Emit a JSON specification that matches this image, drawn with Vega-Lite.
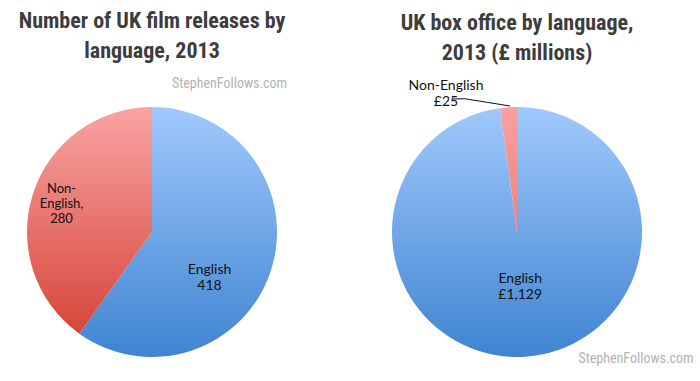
{
  "$schema": "https://vega.github.io/schema/vega-lite/v6.json",
  "background": "white",
  "padding": {"left": 2, "top": 9, "right": 0, "bottom": 0},
  "bounds": "flush",
  "spacing": 65,
  "config": {
    "view": {"stroke": null},
    "title": {"font": "Roboto Condensed", "fontSize": 22, "fontWeight": "bold", "color": "#3d3d3d", "lineHeight": 30, "anchor": "middle", "offset": 14}
  },
  "datasets": {
    "releases": [
      {"language": "English", "value": 418, "label": "English\n418"},
      {"language": "Non-English", "value": 280, "label": "Non-\nEnglish,\n280"}
    ],
    "boxoffice": [
      {"language": "English", "value": 1129, "label": "English\n£1,129"},
      {"language": "Non-English", "value": 25, "label": "Non-English\n£25"}
    ]
  },
  "hconcat": [
    {
      "width": 300,
      "height": 250,
      "title": {"text": ["Number of UK film releases by", "language, 2013"]},
      "layer": [
        {
          "data": {"name": "releases"},
          "mark": {"type": "arc"},
          "encoding": {
            "theta": {"field": "value", "type": "quantitative", "stack": true},
            "detail": {"field": "language", "type": "nominal"},
            "order": {"field": "value", "type": "quantitative", "sort": "descending"},
            "color": {
              "condition": {"test": "datum.language === 'English'", "value": {"gradient": "linear", "x1": 0, "y1": 0, "x2": 0, "y2": 1, "stops": [{"offset": 0, "color": "#a0c9fc"}, {"offset": 1, "color": "#3f84d1"}]}},
              "value": {"gradient": "linear", "x1": 0, "y1": 0, "x2": 0, "y2": 1, "stops": [{"offset": 0, "color": "#f9a4a3"}, {"offset": 1, "color": "#d6463a"}]}
            }
          }
        },
        {
          "data": {"name": "releases"},
          "mark": {"type": "text", "radius": 72, "dx": -11, "dy": 16, "font": "Lato", "fontSize": 14, "lineBreak": "\n", "lineHeight": 16, "baseline": "middle", "color": "#111111"},
          "encoding": {
            "theta": {"field": "value", "type": "quantitative", "stack": true},
            "detail": {"field": "language", "type": "nominal"},
            "order": {"field": "value", "type": "quantitative", "sort": "descending"},
            "text": {"condition": {"test": "datum.language === 'English'", "field": "label", "type": "nominal"}, "value": ""}
          }
        },
        {
          "data": {"name": "releases"},
          "mark": {"type": "text", "radius": 95, "dy": -14, "font": "Lato", "fontSize": 13, "lineBreak": "\n", "lineHeight": 15, "baseline": "middle", "color": "#111111"},
          "encoding": {
            "theta": {"field": "value", "type": "quantitative", "stack": true},
            "detail": {"field": "language", "type": "nominal"},
            "order": {"field": "value", "type": "quantitative", "sort": "descending"},
            "text": {"condition": {"test": "datum.language === 'Non-English'", "field": "label", "type": "nominal"}, "value": ""}
          }
        },
        {
          "data": {"values": [{"text": "StephenFollows.com", "x": 0.62, "y": 1.184}]},
          "mark": {"type": "text", "font": "Roboto Condensed", "fontSize": 14, "color": "#b3b3b3", "baseline": "middle"},
          "encoding": {
            "x": {"field": "x", "type": "quantitative", "scale": {"domain": [-1.2, 1.2], "nice": false, "zero": false}, "axis": null},
            "y": {"field": "y", "type": "quantitative", "scale": {"domain": [-1, 1], "nice": false, "zero": false}, "axis": null},
            "text": {"field": "text", "type": "nominal"}
          }
        }
      ]
    },
    {
      "width": 300,
      "height": 250,
      "title": {"text": ["UK box office by language,", "2013 (£ millions)"]},
      "layer": [
        {
          "data": {"name": "boxoffice"},
          "mark": {"type": "arc"},
          "encoding": {
            "theta": {"field": "value", "type": "quantitative", "stack": true},
            "detail": {"field": "language", "type": "nominal"},
            "order": {"field": "value", "type": "quantitative", "sort": "descending"},
            "color": {
              "condition": {"test": "datum.language === 'English'", "value": {"gradient": "linear", "x1": 0, "y1": 0, "x2": 0, "y2": 1, "stops": [{"offset": 0, "color": "#a0c9fc"}, {"offset": 1, "color": "#3f84d1"}]}},
              "value": {"gradient": "linear", "x1": 0, "y1": 0, "x2": 0, "y2": 1, "stops": [{"offset": 0, "color": "#f9a0a0"}, {"offset": 1, "color": "#ec8280"}]}
            }
          }
        },
        {
          "data": {"name": "boxoffice"},
          "mark": {"type": "text", "radius": 47, "font": "Lato", "fontSize": 14, "lineBreak": "\n", "lineHeight": 16, "baseline": "middle", "color": "#111111"},
          "encoding": {
            "theta": {"field": "value", "type": "quantitative", "stack": true},
            "detail": {"field": "language", "type": "nominal"},
            "order": {"field": "value", "type": "quantitative", "sort": "descending"},
            "text": {"condition": {"test": "datum.language === 'English'", "field": "label", "type": "nominal"}, "value": ""}
          }
        },
        {
          "data": {"values": [{"x": -0.512, "y": 1.064}, {"x": -0.416, "y": 1.066}, {"x": -0.056, "y": 1.008}]},
          "mark": {"type": "line", "color": "#111111", "strokeWidth": 1},
          "encoding": {
            "x": {"field": "x", "type": "quantitative", "scale": {"domain": [-1.2, 1.2], "nice": false, "zero": false}, "axis": null},
            "y": {"field": "y", "type": "quantitative", "scale": {"domain": [-1, 1], "nice": false, "zero": false}, "axis": null}
          }
        },
        {
          "data": {"values": [{"text": "Non-English\n£25", "x": -0.568, "y": 1.168}]},
          "mark": {"type": "text", "font": "Lato", "fontSize": 14, "lineBreak": "\n", "lineHeight": 16, "baseline": "middle", "color": "#111111"},
          "encoding": {
            "x": {"field": "x", "type": "quantitative"},
            "y": {"field": "y", "type": "quantitative"},
            "text": {"field": "text", "type": "nominal"}
          }
        },
        {
          "data": {"values": [{"text": "StephenFollows.com", "x": 0.952, "y": -1.016}]},
          "mark": {"type": "text", "font": "Roboto Condensed", "fontSize": 14, "color": "#b3b3b3", "baseline": "middle"},
          "encoding": {
            "x": {"field": "x", "type": "quantitative"},
            "y": {"field": "y", "type": "quantitative"},
            "text": {"field": "text", "type": "nominal"}
          }
        }
      ]
    }
  ]
}
